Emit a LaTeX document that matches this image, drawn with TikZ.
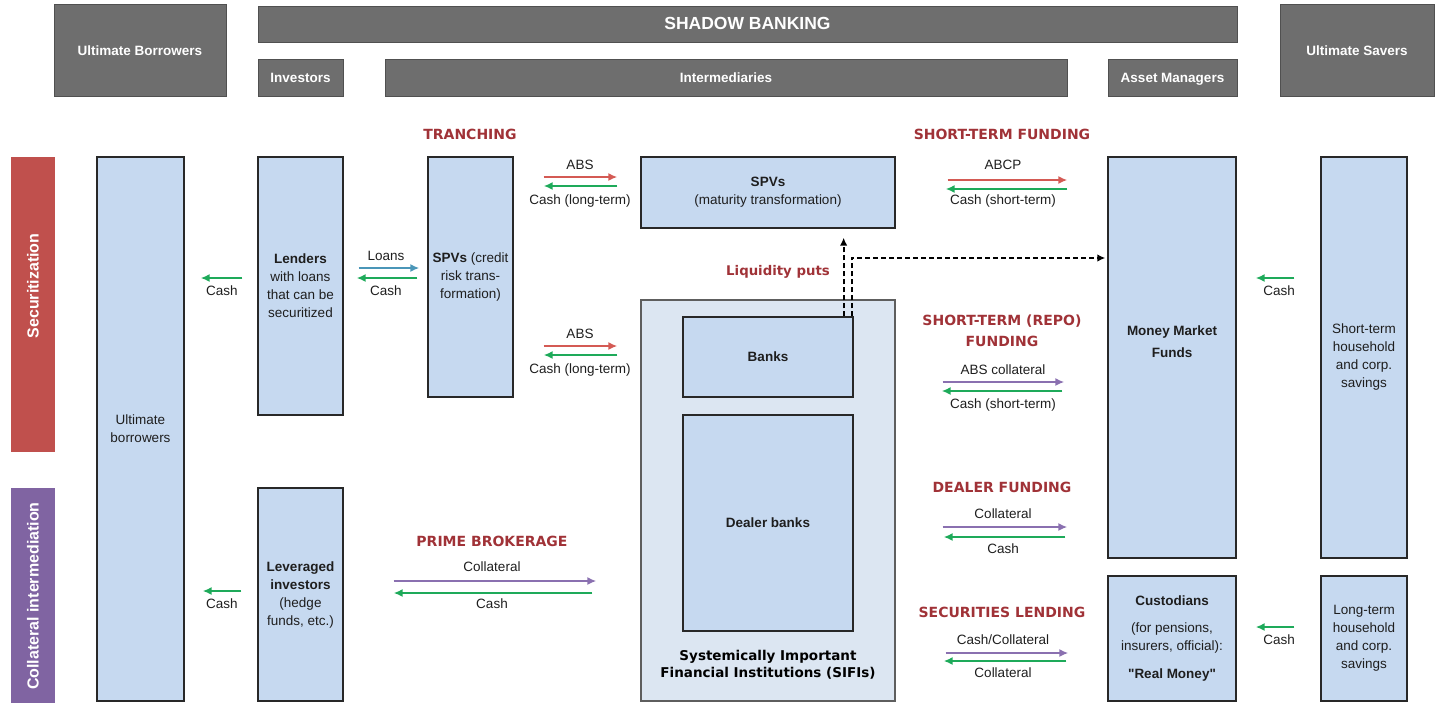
\documentclass[tikz,border=0pt]{standalone}
\usepackage{fontspec}
\setmainfont{Liberation Sans}
\newfontfamily\headfont{DejaVu Sans}
\newfontfamily\quotefont{Liberation Sans}
\usetikzlibrary{arrows.meta,positioning}

\definecolor{hdgray}{RGB}{110,110,110}
\definecolor{hdline}{RGB}{80,80,80}
\definecolor{boxblue}{RGB}{198,217,240}
\definecolor{sifiblue}{RGB}{220,230,242}
\definecolor{boxline}{RGB}{40,40,40}
\definecolor{secred}{RGB}{192,80,77}
\definecolor{collpurple}{RGB}{128,100,162}
\definecolor{headred}{RGB}{160,50,55}
\definecolor{flowred}{RGB}{212,90,84}
\definecolor{flowgreen}{RGB}{30,170,90}
\definecolor{flowpurple}{RGB}{138,112,176}
\definecolor{flowteal}{RGB}{74,150,184}
\definecolor{txtgray}{RGB}{30,30,30}

\begin{document}
\begin{tikzpicture}
  [x=1pt, y=-1pt,
    hdbox/.style={
      draw=hdline, fill=hdgray, line width=0.8pt,
      text=white, inner sep=0pt,
      text height=10pt, text depth=0pt,
      font=\fontsize{13.5}{16}\selectfont\bfseries
    },
    sidebar/.style={inner sep=0pt},
    sidetext/.style={
      text=white, rotate=90,
      font=\fontsize{16}{18}\selectfont\bfseries
    },
    box/.style={
      draw=boxline, fill=boxblue, line width=1.3pt,
      inner sep=0pt, align=center, text=txtgray,
      font=\fontsize{13.5}{18}\selectfont
    },
    heading/.style={
      text=headred, align=center,
      font=\headfont\fontsize{14}{21}\selectfont\bfseries
    },
    lbl/.style={text=txtgray, font=\fontsize{13.5}{16}\selectfont},
    flow/.style={line width=2.7pt, -{Latex[length=9pt,width=8pt]}},
    redflow/.style={flow, draw=flowred},
    greenflow/.style={flow, draw=flowgreen},
    purpleflow/.style={flow, draw=flowpurple},
    tealflow/.style={flow, draw=flowteal},
    puts/.style={
      draw=black, line width=1.7pt,
      dash pattern=on 5pt off 3pt,
      -{Latex[length=8pt,width=7.5pt]}
    }
  ]
  \useasboundingbox (0,0) rectangle (1435,702);

  % header
  \node[hdbox, minimum width=172pt, minimum height=92pt] (hdub) at (140,50) {Ultimate Borrowers};
  \node[hdbox, minimum width=979pt, minimum height=36pt,
    font=\fontsize{17.5}{20}\selectfont\bfseries] (hdsb) at (747.5,24) {SHADOW BANKING};
  \node[hdbox, minimum width=85pt, minimum height=37pt] (hdinv) at (300.5,77.5) {Investors};
  \node[hdbox, minimum width=682pt, minimum height=37pt] (hdint) at (726,77.5) {Intermediaries};
  \node[hdbox, minimum width=129pt, minimum height=37pt] (hdam) at (1172.5,77.5) {Asset Managers};
  \node[hdbox, minimum width=154pt, minimum height=92pt] (hdus) at (1357,50) {Ultimate Savers};

  % side bars
  \node[sidebar, fill=secred, minimum width=44pt, minimum height=295pt] (secbar) at (33,304.5) {};
  \node[sidetext] (sectxt) at (33,286) {Securitization};
  \node[sidebar, fill=collpurple, minimum width=44pt, minimum height=216pt] (collbar) at (33,596) {};
  \node[sidetext] (colltxt) at (collbar.center) {Collateral intermediation};

  % boxes
  \node[box, minimum width=87pt, minimum height=544pt] (ub) at (140.5,429) {Ultimate\\borrowers};
  \node[box, minimum width=85pt, minimum height=258pt] (lend) at (300.5,286)
    {\textbf{Lenders}\\with loans\\that can be\\securitized};
  \node[box, minimum width=85pt, minimum height=213pt] (lev) at (300.5,594.5)
    {\textbf{Leveraged}\\\textbf{investors}\\(hedge\\funds, etc.)};
  \node[box, minimum width=85pt, minimum height=240pt] (spv1) at (470.5,277)
    {\textbf{SPVs} (credit\\risk trans-\\formation)};
  \node[box, minimum width=254pt, minimum height=71pt] (spv2) at (768,192.5)
    {\textbf{SPVs}\\(maturity transformation)};
  \node[box, fill=sifiblue, draw=boxline!75, minimum width=254pt, minimum height=401pt] (sifi) at (768,500.5) {};
  \node[box, minimum width=170pt, minimum height=80pt] (banks) at (768,357) {\textbf{Banks}};
  \node[box, minimum width=170pt, minimum height=216pt] (dealer) at (768,523) {\textbf{Dealer banks}};
  \node[text=black, align=center, font=\headfont\fontsize{13.5}{17}\selectfont\bfseries]
    (sifitxt) at (768,665) {Systemically Important\\Financial Institutions (SIFIs)};
  \node[box, minimum width=128pt, minimum height=401pt] (mmf) at (1172,357.5) {};
  \node[box, draw=none, fill=none] (mmftxt) at (1172,342) {\textbf{Money Market}\\[4pt]\textbf{Funds}};
  \node[box, minimum width=128pt, minimum height=125pt] (cust) at (1172,638.5)
    {\textbf{Custodians}\\[9pt](for pensions,\\insurers, official):\\[10pt]{\quotefont\bfseries "Real Money"}};
  \node[box, minimum width=86pt, minimum height=401pt] (stsav) at (1364,357.5)
    {Short-term\\household\\and corp.\\savings};
  \node[box, minimum width=86pt, minimum height=125pt] (ltsav) at (1364,638.5)
    {Long-term\\household\\and corp.\\savings};

  % headings
  \node[heading] (htr) at (470,134) {TRANCHING};
  \node[heading] (hstf) at (1002,134) {SHORT-TERM FUNDING};
  \node[heading, font=\headfont\fontsize{13.3}{16}\selectfont\bfseries] (hlp) at (778,272) {Liquidity puts};
  \node[heading] (hrepo) at (1002,330.5) {SHORT-TERM (REPO)\\FUNDING};
  \node[heading] (hdf) at (1002,487) {DEALER FUNDING};
  \node[heading] (hsl) at (1002,612) {SECURITIES LENDING};
  \node[heading] (hpb) at (492,541) {PRIME BROKERAGE};

  % flow labels
  \node[lbl] (l1) at (222,291) {Cash};
  \node[lbl] (l2) at (222,604) {Cash};
  \node[lbl] (l3) at (386,256) {Loans};
  \node[lbl] (l4) at (386,291) {Cash};
  \node[lbl] (l5) at (580,165) {ABS};
  \node[lbl] (l6) at (580,201) {Cash (long-term)};
  \node[lbl] (l7) at (580,334) {ABS};
  \node[lbl] (l8) at (580,370) {Cash (long-term)};
  \node[lbl] (l9) at (1003,165) {ABCP};
  \node[lbl] (l10) at (1003,201) {Cash (short-term)};
  \node[lbl] (l11) at (1003,370) {ABS collateral};
  \node[lbl] (l12) at (1003,405) {Cash (short-term)};
  \node[lbl] (l13) at (1003,514) {Collateral};
  \node[lbl] (l14) at (1003,549) {Cash};
  \node[lbl] (l15) at (1003,640) {Cash/Collateral};
  \node[lbl] (l16) at (1003,673) {Collateral};
  \node[lbl] (l17) at (492,567) {Collateral};
  \node[lbl] (l18) at (492,604) {Cash};
  \node[lbl] (l19) at (1279,291) {Cash};
  \node[lbl] (l20) at (1279,640) {Cash};

  % flows
  \draw[greenflow, shorten <=15pt, shorten >=16pt] (lend.west |- 0,278) -- (ub.east |- 0,278);
  \draw[greenflow, shorten <=16pt, shorten >=18pt] (lev.west |- 0,591) -- (ub.east |- 0,591);
  \draw[tealflow, shorten <=15pt, shorten >=8pt] (lend.east |- 0,268) -- (spv1.west |- 0,268);
  \draw[greenflow, shorten <=10pt, shorten >=13pt] (spv1.west |- 0,278) -- (lend.east |- 0,278);
  \draw[redflow, shorten <=30pt, shorten >=23pt] (spv1.east |- 0,177) -- (spv2.west |- 0,177);
  \draw[greenflow, shorten <=23pt, shorten >=30pt] (spv2.west |- 0,186) -- (spv1.east |- 0,186);
  \draw[redflow, shorten <=30pt, shorten >=23pt] (spv1.east |- 0,346) -- (sifi.west |- 0,346);
  \draw[greenflow, shorten <=23pt, shorten >=30pt] (sifi.west |- 0,355) -- (spv1.east |- 0,355);
  \draw[redflow, shorten <=52pt, shorten >=40pt] (spv2.east |- 0,180) -- (mmf.west |- 0,180);
  \draw[greenflow, shorten <=40pt, shorten >=50pt] (mmf.west |- 0,189) -- (spv2.east |- 0,189);
  \draw[purpleflow, shorten <=47pt, shorten >=43pt] (sifi.east |- 0,382) -- (mmf.west |- 0,382);
  \draw[greenflow, shorten <=45pt, shorten >=46pt] (mmf.west |- 0,391) -- (sifi.east |- 0,391);
  \draw[purpleflow, shorten <=47pt, shorten >=40pt] (sifi.east |- 0,527) -- (mmf.west |- 0,527);
  \draw[greenflow, shorten <=42pt, shorten >=48pt] (mmf.west |- 0,537) -- (sifi.east |- 0,537);
  \draw[purpleflow, shorten <=50pt, shorten >=39pt] (sifi.east |- 0,653) -- (cust.west |- 0,653);
  \draw[greenflow, shorten <=41pt, shorten >=48pt] (cust.west |- 0,661) -- (sifi.east |- 0,661);
  \draw[purpleflow, shorten <=50pt, shorten >=44pt] (lev.east |- 0,581) -- (sifi.west |- 0,581);
  \draw[greenflow, shorten <=48pt, shorten >=50pt] (sifi.west |- 0,593) -- (lev.east |- 0,593);
  \draw[greenflow, shorten <=26pt, shorten >=19pt] (stsav.west |- 0,278) -- (mmf.east |- 0,278);
  \draw[greenflow, shorten <=26pt, shorten >=19pt] (ltsav.west |- 0,627) -- (cust.east |- 0,627);

  % liquidity puts
  \coordinate (putA) at ([xshift=-10pt]banks.north east);
  \coordinate (putB) at ([xshift=-2pt]banks.north east);
  \draw[puts, shorten >=9pt] (putA) -- (putA |- spv2.south);
  \draw[puts, shorten >=2pt] (putB) |- (mmf.west |- 0,258);
\end{tikzpicture}
\end{document}
